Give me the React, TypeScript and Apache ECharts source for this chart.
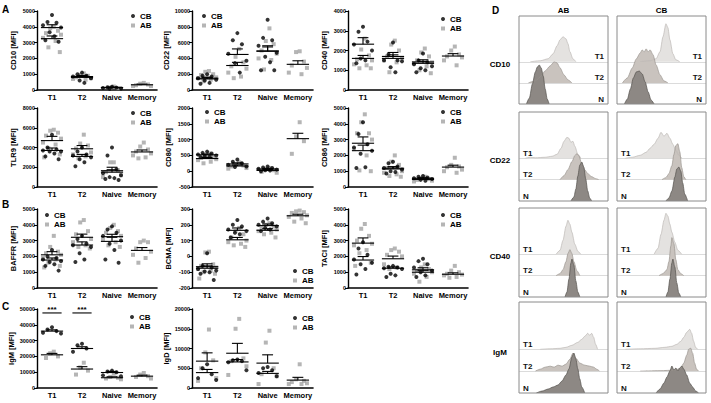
import React, { useEffect, useRef } from "react";
import * as echarts from "echarts";

const CATS = ["T1", "T2", "Naive", "Memory"];

// ---- scatter data: per category arrays ----
const CD10_CB = [[4750, 4300, 4250, 4100, 3950, 3650, 3400, 3150, 3050], [1100, 1000, 900, 850, 750, 600, 450], [200, 180, 150, 120, 100, 80], []];
const CD10_AB = [[4000, 3900, 3750, 3600, 3500, 3300, 3100, 2700, 2400], [1050, 950, 900, 800, 750, 700, 650], [220, 150, 120], [450, 400, 350, 300, 250, 250]];
const CD10_CB_MS = [[3950, 180], [850, 70], [140, 20], null];
const CD10_AB_MS = [[3250, 170], [800, 50], [160, 30], [330, 40]];

const CD22_CB = [[2000, 1800, 1700, 1500, 1300, 1200, 900, 800], [7200, 6300, 5800, 4600, 3700, 3400, 2200], [8900, 6600, 6300, 5600, 4700, 4200, 3500, 2500, 2500], []];
const CD22_AB = [[2400, 2300, 2000, 1900, 1600, 1500, 1300, 1100], [5200, 4200, 3500, 3000, 2700, 2200, 1700, 1500], [7800, 6200, 5800, 5000, 4600, 4000, 3800, 2600], [4900, 4800, 3600, 3100, 2800, 2200, 2000]];
const CD22_CB_MS = [[1400, 150], [4500, 700], [4950, 650], null];
const CD22_AB_MS = [[1500, 130], [3100, 400], [4900, 550], [3250, 450]];

const CD40_CB = [[3200, 2950, 2450, 2300, 2000, 1600, 1500, 1350], [2400, 1800, 1500, 1500, 1450, 1150, 900], [1850, 1500, 1400, 1300, 1200, 1100, 1000, 900], []];
const CD40_AB = [[2600, 2050, 1750, 1550, 1500, 1300, 1250, 1100, 1100], [2500, 2300, 2000, 1700, 1600, 1500, 1400, 900], [2100, 1900, 1700, 1500, 1400, 1350, 1200, 1000, 850], [2200, 2000, 1800, 1700, 1650, 1500, 1250]];
const CD40_CB_MS = [[2320, 330], [1600, 180], [1350, 100], null];
const CD40_AB_MS = [[1600, 150], [1700, 200], [1420, 110], [1720, 120]];

const TLR9_CB = [[5300, 4000, 3800, 3700, 3600, 3600, 3400, 3100, 2800], [4000, 3600, 3300, 3200, 3000, 2800, 2500, 2100], [4000, 3200, 1800, 1400, 1200, 1000, 900, 800, 700], []];
const TLR9_AB = [[5800, 5700, 5500, 5200, 4900, 4500, 4300, 3900, 3300, 3000], [5300, 4400, 4200, 3900, 3500, 3300, 3100, 2900], [2500, 2500, 1700, 1500, 1200, 1000], [4500, 4100, 3800, 3600, 3400, 3200, 3000, 2900]];
const TLR9_CB_MS = [[3700, 250], [3100, 200], [1650, 350], null];
const TLR9_AB_MS = [[4700, 430], [3870, 330], [1500, 250], [3550, 200]];

const CD80_CB = [[620, 580, 560, 530, 500, 480, 460, 450], [370, 300, 250, 200, 150, 130], [150, 120, 100, 80, 50, 30, 20, 0], []];
const CD80_AB = [[560, 500, 450, 420, 380, 350, 300, 250], [280, 200, 180, 150, 100, 80], [100, 60, 30, -20, -50], [1550, 1100, 950, 550]];
const CD80_CB_MS = [[520, 25], [230, 35], [70, 20], null];
const CD80_AB_MS = [[400, 35], [165, 30], [25, 25], [1030, 170]];

const CD86_CB = [[4100, 3350, 2700, 2500, 2300, 2100, 1250, 1200], [1600, 1500, 1300, 1200, 1100, 1000, 950, 850], [700, 650, 600, 550, 500, 450, 400], []];
const CD86_AB = [[4600, 4100, 3400, 3400, 3000, 2400, 2000, 1050, 1000], [2000, 1600, 1400, 1200, 1000, 900, 800, 700, 650], [650, 550, 500, 450, 400, 350], [1850, 1400, 1300, 1250, 1100, 1000, 900]];
const CD86_CB_MS = [[2300, 350], [1190, 90], [550, 40], null];
const CD86_AB_MS = [[2770, 400], [1140, 140], [480, 40], [1260, 120]];

const BAFFR_CB = [[2400, 2000, 1900, 1800, 1700, 1650, 1500, 1400, 1100], [3300, 3100, 2800, 2700, 2600, 2200, 1800, 1650], [3900, 3700, 3500, 3300, 3000, 2800, 2400, 1800, 1600], []];
const BAFFR_AB = [[3300, 2600, 2300, 2200, 2100, 1900, 1800, 1600, 1400, 1300], [4300, 4150, 3600, 3400, 3100, 2900, 2700, 2600, 2500], [4000, 3800, 3600, 3500, 3300, 3100, 2900, 2700, 2600], [3000, 2900, 2900, 2500, 2300, 2100, 1900, 1600]];
const BAFFR_CB_MS = [[1770, 130], [2720, 200], [2950, 260], null];
const BAFFR_AB_MS = [[2100, 200], [3210, 200], [3250, 150], [2380, 180]];

const BCMA_CB = [[20, -60, -70, -80, -90, -95, -100, -110, -150], [230, 200, 190, 170, 160, 150, 140, 120], [240, 220, 210, 200, 190, 180, 170, 160], []];
const BCMA_AB = [[30, 25, -50, -60, -70, -80, -90, -100, -110, -140], [180, 160, 140, 120, 100, 90, 80, 70, 60], [210, 200, 190, 180, 170, 160, 150, 140, 120], [290, 285, 280, 275, 260, 250, 240, 220, 210]];
const BCMA_CB_MS = [[-75, 15], [165, 15], [195, 10], null];
const BCMA_AB_MS = [[-65, 18], [105, 15], [165, 10], [257, 10]];

const TACI_CB = [[2900, 2500, 2100, 1800, 1600, 1500, 1200, 850], [1400, 1350, 1300, 1250, 1200, 900, 800, 700], [1850, 1700, 1500, 1300, 1100, 1000, 800, 700], []];
const TACI_AB = [[4050, 3750, 3300, 3000, 2800, 2700, 2400, 2200, 1600, 1400], [2500, 2400, 2300, 2100, 2000, 1500, 1300, 1200], [1500, 1300, 1200, 1100, 1000, 900, 700, 400], [1400, 1100, 1000, 900, 850, 800, 700, 650]];
const TACI_CB_MS = [[1770, 220], [1250, 80], [1150, 130], null];
const TACI_AB_MS = [[2840, 330], [1850, 170], [1000, 120], [870, 90]];

const IGM_CB = [[38500, 37000, 36000, 35000, 34500], [28000, 27000, 25000, 23000], [11000, 10500, 10000, 8000, 7500], []];
const IGM_AB = [[23000, 22000, 20000, 19000], [16000, 13000, 11000, 8500], [9000, 7000, 6500, 6000, 5500], [9500, 8500, 7500, 7000, 6000]];
const IGM_CB_MS = [[36000, 800], [25000, 1100], [9800, 700], null];
const IGM_AB_MS = [[21000, 900], [12000, 1500], [6500, 600], [7500, 600]];
const IGM_SIG = [[0, 47500, "***"], [1, 47500, "***"]];

const IGD_CB = [[6000, 5000, 3500, 2500, 2000], [7200, 7000, 6800, 6500, 4500], [5300, 5000, 4500, 3800, 3000], []];
const IGD_AB = [[14800, 9000, 7000, 5000, 2500, 1800], [17500, 15000, 7500, 6800, 5500, 3300], [14500, 11500, 5000, 3500, 3000, 1000], [6000, 2200, 1800, 1500, 1200, 1000, 1000]];
const IGD_CB_MS = [[3900, 800], [6600, 600], [3700, 500], null];
const IGD_AB_MS = [[6800, 2100], [8800, 2500], [6300, 2100], [2000, 700]];

// ---- histogram data: [channel position, height] ----
const H_CD10_AB_T1 = [[11, 0], [21, 1], [29, 3], [34, 8], [38, 16], [41, 22], [44, 25], [47, 23], [49, 18], [51, 10], [54, 3], [57, 0]];
const H_CD10_AB_T2 = [[9, 0], [16, 2], [21, 6], [26, 12], [31, 17], [35, 21], [38, 20], [41, 15], [45, 8], [49, 3], [53, 0]];
const H_CD10_AB_N = [[7, 0], [10, 6], [13, 20], [16, 32], [18, 37], [20, 39], [22, 36], [24, 28], [26, 15], [28, 5], [30, 0]];
const H_CD10_CB_T1 = [[23, 0], [33, 1], [39, 3], [43, 10], [46, 25], [49, 38], [51, 34], [53, 22], [56, 8], [59, 2], [63, 0]];
const H_CD10_CB_T2 = [[5, 0], [10, 5], [15, 15], [19, 24], [23, 30], [25, 33], [27, 31], [29, 34], [31, 31], [33, 33], [36, 28], [39, 18], [43, 8], [47, 2], [51, 0]];
const H_CD10_CB_N = [[7, 0], [10, 5], [13, 15], [16, 26], [19, 32], [22, 33], [25, 30], [28, 22], [31, 12], [34, 4], [37, 0]];

const H_CD22_AB_T1 = [[6, 0], [11, 1], [16, 0.5], [26, 1], [33, 2], [38, 4], [42, 10], [45, 17], [48, 21], [50, 20], [52, 16], [54, 17], [56, 12], [59, 4], [62, 0]];
const H_CD22_AB_T2 = [[41, 0], [45, 4], [49, 10], [53, 18], [56, 24], [58, 26], [60, 24], [63, 16], [66, 10], [69, 6], [73, 3], [77, 1], [80, 0]];
const H_CD22_AB_N = [[52, 0], [55, 4], [57, 12], [59, 25], [61, 36], [63, 39], [65, 34], [67, 22], [69, 10], [71, 3], [73, 0]];
const H_CD22_CB_T1 = [[8, 0], [15, 1], [23, 3], [29, 6], [33, 10], [37, 14], [41, 20], [44, 26], [47, 22], [50, 25], [53, 20], [56, 14], [59, 8], [62, 3], [65, 0]];
const H_CD22_CB_T2 = [[45, 0], [49, 2], [52, 6], [55, 14], [57, 25], [59, 34], [61, 36], [63, 28], [65, 12], [67, 3], [69, 0]];
const H_CD22_CB_N = [[49, 0], [52, 3], [55, 10], [58, 24], [60, 32], [62, 34], [64, 30], [66, 18], [68, 7], [71, 0]];

const H_CD40_AB_T1 = [[37, 0], [41, 4], [44, 14], [47, 28], [49, 34], [51, 30], [53, 22], [56, 10], [59, 3], [62, 0]];
const H_CD40_AB_T2 = [[37, 0], [41, 2], [44, 6], [47, 14], [49, 22], [51, 26], [53, 22], [55, 14], [58, 5], [61, 0]];
const H_CD40_AB_N = [[46, 0], [48, 5], [50, 18], [52, 34], [53, 38], [55, 32], [57, 16], [59, 5], [61, 0]];
const H_CD40_CB_T1 = [[37, 0], [41, 6], [44, 20], [47, 34], [49, 41], [51, 38], [53, 30], [55, 22], [58, 12], [61, 4], [65, 0]];
const H_CD40_CB_T2 = [[42, 0], [46, 2], [50, 6], [52, 14], [54, 30], [55, 38], [57, 32], [59, 16], [61, 6], [64, 2], [67, 0]];
const H_CD40_CB_N = [[49, 0], [51, 5], [53, 18], [55, 34], [56, 38], [58, 30], [60, 14], [62, 4], [64, 0]];

const H_IGM_AB_T1 = [[21, 0], [31, 0.5], [41, 1], [47, 2], [53, 4], [59, 7], [63, 10], [66, 13], [69, 16], [71, 14], [73, 16], [75, 12], [77, 5], [79, 0]];
const H_IGM_AB_T2 = [[16, 0], [21, 2], [26, 4], [31, 5], [35, 4], [39, 6], [43, 5], [47, 7], [51, 12], [54, 18], [57, 13], [61, 8], [66, 6], [71, 5], [75, 4], [78, 2], [81, 0]];
const H_IGM_AB_N = [[17, 0], [23, 2], [29, 4], [34, 6], [39, 8], [43, 12], [47, 18], [50, 24], [53, 36], [55, 40], [57, 34], [59, 24], [61, 14], [63, 6], [66, 0]];
const H_IGM_CB_T1 = [[8, 0], [23, 0.5], [38, 1], [48, 2], [55, 3], [60, 5], [64, 8], [67, 12], [70, 17], [73, 20], [75, 16], [77, 8], [79, 2], [81, 0]];
const H_IGM_CB_T2 = [[23, 0], [43, 0.5], [58, 1], [64, 3], [67, 8], [70, 16], [72, 22], [74, 23], [76, 18], [78, 8], [80, 2], [82, 0]];
const H_IGM_CB_N = [[39, 0], [43, 4], [47, 10], [50, 16], [53, 22], [55, 27], [57, 23], [59, 25], [61, 22], [63, 25], [65, 27], [67, 24], [70, 18], [73, 10], [76, 6], [79, 2], [82, 0]];

const HIST_MARKERS = ["CD10", "CD22", "CD40", "IgM"];
const HIST_COLS = ["AB", "CB"];
const LANE_NAMES = ["T1", "T2", "N"];
const HIST_SETS = [
  [[H_CD10_AB_T1, H_CD10_AB_T2, H_CD10_AB_N], [H_CD10_CB_T1, H_CD10_CB_T2, H_CD10_CB_N]],
  [[H_CD22_AB_T1, H_CD22_AB_T2, H_CD22_AB_N], [H_CD22_CB_T1, H_CD22_CB_T2, H_CD22_CB_N]],
  [[H_CD40_AB_T1, H_CD40_AB_T2, H_CD40_AB_N], [H_CD40_CB_T1, H_CD40_CB_T2, H_CD40_CB_N]],
  [[H_IGM_AB_T1, H_IGM_AB_T2, H_IGM_AB_N], [H_IGM_CB_T1, H_IGM_CB_T2, H_IGM_CB_N]],
];

// ---- layout ----
const FONT = "'Liberation Sans', Arial, Helvetica, sans-serif";
const COL_LEFT = [37, 192, 348];
const COL_W = [120, 121, 120];
const ROW_TOP = [11, 108, 209, 309];
const PH = 79;
const JIT_CB = [0, -0.15, 0.15, -0.3, 0.3, -0.08, 0.08, -0.22, 0.22, 0.02, -0.12, 0.12];
const JIT_AB = [0.06, -0.06, 0.2, -0.2, 0.3, -0.3, 0.12, -0.12, 0.26, -0.26, 0.0, 0.16];

const PANELS = [
  { name: "CD10 [MFI]", cb: CD10_CB, ab: CD10_AB, cbMs: CD10_CB_MS, abMs: CD10_AB_MS, min: 0, max: 5000, iv: 1000, col: 0, row: 0, leg: [133, 16] },
  { name: "CD22 [MFI]", cb: CD22_CB, ab: CD22_AB, cbMs: CD22_CB_MS, abMs: CD22_AB_MS, min: 0, max: 10000, iv: 2000, col: 1, row: 0, leg: [204, 16] },
  { name: "CD40 [MFI]", cb: CD40_CB, ab: CD40_AB, cbMs: CD40_CB_MS, abMs: CD40_AB_MS, min: 0, max: 4000, iv: 1000, col: 2, row: 0, leg: [443, 19] },
  { name: "TLR9 [MFI]", cb: TLR9_CB, ab: TLR9_AB, cbMs: TLR9_CB_MS, abMs: TLR9_AB_MS, min: 0, max: 8000, iv: 2000, col: 0, row: 1, leg: [133, 113] },
  { name: "CD80 [MFI]", cb: CD80_CB, ab: CD80_AB, cbMs: CD80_CB_MS, abMs: CD80_AB_MS, min: -500, max: 2000, iv: 500, col: 1, row: 1, leg: [207, 112] },
  { name: "CD86 [MFI]", cb: CD86_CB, ab: CD86_AB, cbMs: CD86_CB_MS, abMs: CD86_AB_MS, min: 0, max: 5000, iv: 1000, col: 2, row: 1, leg: [443, 112] },
  { name: "BAFFR [MFI]", cb: BAFFR_CB, ab: BAFFR_AB, cbMs: BAFFR_CB_MS, abMs: BAFFR_AB_MS, min: 0, max: 5000, iv: 1000, col: 0, row: 2, leg: [47, 215] },
  { name: "BCMA [MFI]", cb: BCMA_CB, ab: BCMA_AB, cbMs: BCMA_CB_MS, abMs: BCMA_AB_MS, min: -200, max: 300, iv: 100, col: 1, row: 2, leg: [295, 271] },
  { name: "TACI [MFI]", cb: TACI_CB, ab: TACI_AB, cbMs: TACI_CB_MS, abMs: TACI_AB_MS, min: 0, max: 5000, iv: 1000, col: 2, row: 2, leg: [443, 215] },
  { name: "IgM [MFI]", cb: IGM_CB, ab: IGM_AB, cbMs: IGM_CB_MS, abMs: IGM_AB_MS, min: 0, max: 50000, iv: 10000, col: 0, row: 3, leg: [132, 317], sig: IGM_SIG },
  { name: "IgD [MFI]", cb: IGD_CB, ab: IGD_AB, cbMs: IGD_CB_MS, abMs: IGD_AB_MS, min: 0, max: 20000, iv: 5000, col: 1, row: 3, leg: [295, 318] },
];

const BOX_LEFT = [519, 617];
const BOX_W = 89;
const BOX_TOP = [16, 112, 208, 302];
const BOX_H = [88, 89, 89, 91];
const LANE_FR = [0.52, 0.76, 1.0];
const LANE_H = 45;
const FILL = ["#e4e2e0", "#c9c3be", "#8d8884"];
const STROKE = ["#bdb9b6", "#99938e", "#55514e"];

const meanRender = (params: any, api: any) => {
  const x = api.value(0), m = api.value(1), s = api.value(2);
  const a = api.coord([x - 0.37, m]), b = api.coord([x + 0.37, m]);
  const c = api.coord([x, m]), d = api.coord([x, m + s]);
  const e = api.coord([x - 0.18, m + s]), f = api.coord([x + 0.18, m + s]);
  const st = { stroke: "#000", lineWidth: 1.1 };
  return {
    type: "group",
    children: [
      { type: "line", shape: { x1: a[0], y1: a[1], x2: b[0], y2: b[1] }, style: st },
      { type: "line", shape: { x1: c[0], y1: c[1], x2: d[0], y2: d[1] }, style: st },
      { type: "line", shape: { x1: e[0], y1: e[1], x2: f[0], y2: f[1] }, style: st },
    ],
  };
};

const sigRender = (params: any, api: any) => {
  const x = api.value(0), y = api.value(1);
  const a = api.coord([x - 0.32, y]), b = api.coord([x + 0.32, y]);
  const c = api.coord([x, y]);
  return {
    type: "group",
    children: [
      { type: "line", shape: { x1: a[0], y1: a[1], x2: b[0], y2: b[1] }, style: { stroke: "#000", lineWidth: 1.1 } },
      { type: "text", x: c[0], y: c[1] + 1, style: { text: "***", fontSize: 8, fontWeight: "bold", fontFamily: FONT, fill: "#000", align: "center", verticalAlign: "bottom" } },
    ],
  };
};

export default function App() {
  const ref = useRef<HTMLDivElement>(null);
  useEffect(() => {
    const chart = echarts.init(ref.current!, undefined, { renderer: "svg" });
    const grid: any[] = [], xAxis: any[] = [], yAxis: any[] = [], series: any[] = [], legend: any[] = [], graphic: any[] = [];

    PANELS.forEach((p: any) => {
      const gi = grid.length;
      grid.push({ left: COL_LEFT[p.col], top: ROW_TOP[p.row], width: COL_W[p.col], height: PH });
      xAxis.push({
        type: "category", gridIndex: gi, data: CATS, boundaryGap: true,
        axisLine: { onZero: false, lineStyle: { color: "#000", width: 1.6 } },
        axisTick: { show: false },
        axisLabel: { fontFamily: FONT, fontSize: 7.5, fontWeight: "bold", color: "#000", margin: 3, interval: 0 },
        splitLine: { show: false },
      });
      const xv = xAxis.length;
      xAxis.push({ type: "value", gridIndex: gi, min: 0, max: 4, show: false });
      const yi = yAxis.length;
      yAxis.push({
        type: "value", gridIndex: gi, min: p.min, max: p.max, interval: p.iv,
        name: p.name, nameLocation: "middle", nameRotate: 90, nameGap: 20,
        nameTextStyle: { fontFamily: FONT, fontSize: 7.5, fontWeight: "bold", color: "#000" },
        axisLine: { show: true, onZero: false, lineStyle: { color: "#000", width: 1.4 } },
        axisTick: { show: true, length: 3, lineStyle: { color: "#000", width: 1 } },
        axisLabel: { fontFamily: FONT, fontSize: 5.5, fontWeight: "bold", color: "#000", margin: 2, formatter: (v: number) => String(v) },
        splitLine: { show: false },
      });
      const pts = (arr: number[][], jit: number[]) =>
        arr.flatMap((vals, c) => vals.map((v, k) => [c + 0.5 + jit[k % jit.length], v]));
      series.push({ type: "scatter", name: "AB", xAxisIndex: xv, yAxisIndex: yi, data: pts(p.ab, JIT_AB), symbol: "rect", symbolSize: 4, itemStyle: { color: "#a2a2a2" }, z: 2, silent: true });
      series.push({ type: "scatter", name: "CB", xAxisIndex: xv, yAxisIndex: yi, data: pts(p.cb, JIT_CB), symbol: "circle", symbolSize: 4, itemStyle: { color: "#000" }, z: 3, silent: true });
      const ms: any[] = [];
      p.cbMs.forEach((m: any, c: number) => { if (m) ms.push([c + 0.5, m[0], m[1]]); });
      p.abMs.forEach((m: any, c: number) => { if (m) ms.push([c + 0.5, m[0], m[1]]); });
      series.push({ type: "custom", name: "mean", xAxisIndex: xv, yAxisIndex: yi, data: ms, renderItem: meanRender, z: 4, silent: true });
      if (p.sig) {
        series.push({ type: "custom", name: "sig", xAxisIndex: xv, yAxisIndex: yi, data: p.sig.map((s: any) => [s[0] + 0.5, s[1]]), renderItem: sigRender, z: 4, silent: true });
      }
      legend.push({
        left: p.leg[0] - 2, top: p.leg[1] - 4.5, orient: "vertical", padding: 0,
        itemWidth: 4, itemHeight: 4, itemGap: 0.5, selectedMode: false,
        data: [{ name: "CB", icon: "circle" }, { name: "AB", icon: "rect" }],
        textStyle: { fontFamily: FONT, fontSize: 8, fontWeight: "bold", color: "#000", lineHeight: 9 },
      });
    });

    // ---- panel D histograms ----
    HIST_SETS.forEach((row, r) => {
      row.forEach((lanes, col) => {
        const top = BOX_TOP[r], h = BOX_H[r], left = BOX_LEFT[col];
        lanes.forEach((curve, li) => {
          const base = top + LANE_FR[li] * h;
          const gi = grid.length;
          grid.push({ left: left + 0.5, top: base - LANE_H, width: BOX_W - 1, height: LANE_H });
          const xi = xAxis.length;
          xAxis.push({
            type: "value", gridIndex: gi, min: 0, max: BOX_W, show: li < 2,
            axisLine: { show: li < 2, onZero: false, lineStyle: { color: "#d2d2d2", width: 0.8 } },
            axisTick: { show: false }, axisLabel: { show: false }, splitLine: { show: false },
          });
          const yi = yAxis.length;
          yAxis.push({ type: "value", gridIndex: gi, min: 0, max: LANE_H, show: false });
          series.push({
            type: "line", name: HIST_MARKERS[r] + " " + HIST_COLS[col] + " " + LANE_NAMES[li],
            xAxisIndex: xi, yAxisIndex: yi, data: curve, symbol: "none", smooth: 0.25, smoothMonotone: "x",
            lineStyle: { color: STROKE[li], width: 0.7 }, areaStyle: { color: FILL[li], opacity: 1 }, silent: true, z: 2,
          });
          const right = r === 0;
          graphic.push({
            type: "text", x: right ? left + BOX_W - 4 : left + 4, y: base - 5,
            style: { text: LANE_NAMES[li], fontFamily: FONT, fontSize: 8, fontWeight: "bold", fill: "#111", align: right ? "right" : "left", verticalAlign: "middle" },
            z: 20,
          });
        });
        graphic.push({ type: "rect", shape: { x: left, y: top, width: BOX_W, height: h }, style: { fill: "none", stroke: "#8a8a8a", lineWidth: 1 }, z: 20 });
      });
      graphic.push({
        type: "text", x: 500, y: BOX_TOP[r] + 0.55 * BOX_H[r],
        style: { text: HIST_MARKERS[r], fontFamily: FONT, fontSize: 8, fontWeight: "bold", fill: "#000", align: "center", verticalAlign: "middle" },
      });
    });
    HIST_COLS.forEach((c, i) => {
      graphic.push({
        type: "text", x: BOX_LEFT[i] + BOX_W / 2, y: 10,
        style: { text: c, fontFamily: FONT, fontSize: 8, fontWeight: "bold", fill: "#000", align: "center", verticalAlign: "middle" },
      });
    });
    [["A", 2, 9], ["B", 2, 204], ["C", 2, 306], ["D", 492, 10]].forEach(([t, x, y]: any) => {
      graphic.push({
        type: "text", x, y,
        style: { text: t, fontFamily: FONT, fontSize: 10, fontWeight: "bold", fill: "#000", align: "left", verticalAlign: "middle" },
      });
    });

    chart.setOption({ animation: false, backgroundColor: "#fff", grid, xAxis, yAxis, series, legend, graphic });
    return () => chart.dispose();
  }, []);
  return <div ref={ref} style={{ position: "absolute", left: 0, top: 0, width: 711, height: 403 }} />;
}
